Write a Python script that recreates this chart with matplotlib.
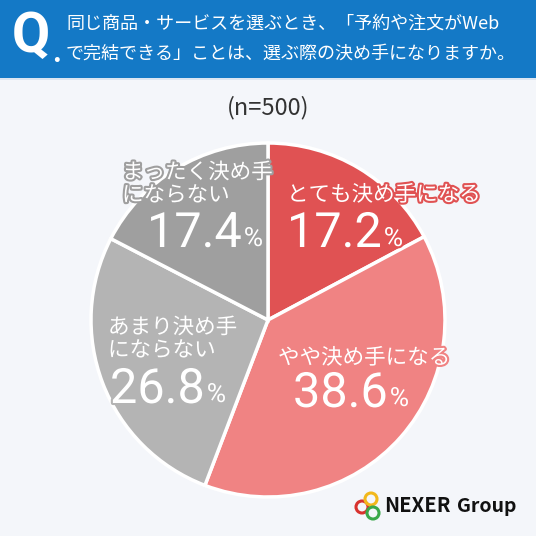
import matplotlib.pyplot as plt
import matplotlib.patheffects as pe
from matplotlib.patches import Circle, Rectangle

plt.rcParams['font.family'] = ['Noto Sans CJK JP', 'DejaVu Sans']

labels = ["とても決め手になる", "やや決め手になる", "あまり決め手\nにならない", "まったく決め手\nにならない"]
values = [17.2, 38.6, 26.8, 17.4]
colors = ["#E05253", "#F08383", "#B4B4B4", "#9F9F9F"]
title_lines = ["同じ商品・サービスを選ぶとき、「予約や注文がWeb", "で完結できる」ことは、選ぶ際の決め手になりますか。"]
n_text = "(n=500)"

W = 536
fig = plt.figure(figsize=(5.36, 5.36), dpi=100)
fig.patch.set_facecolor("#F4F6FA")


def fx(x):
    return x / W


def fy(y):
    return 1 - y / W


# header
fig.patches.append(Rectangle((0, fy(78)), 1, 78 / W, transform=fig.transFigure,
                             facecolor="#1479C6", edgecolor="none"))
fig.patches.append(Rectangle((0, fy(80)), 1, 2 / W, transform=fig.transFigure,
                             facecolor="#DCE6F2", edgecolor="none"))
fig.text(fx(31), fy(37), "Q", color="white", fontsize=40, fontweight="bold",
         family="Roboto", ha="center", va="center")
fig.text(fx(57), fy(53), ".", color="white", fontsize=22, fontweight="bold",
         family="Roboto", ha="center", va="center")
fig.text(fx(66), fy(24), title_lines[0], color="white", fontsize=13,
         ha="left", va="center")
fig.text(fx(66), fy(54), title_lines[1], color="white", fontsize=13,
         ha="left", va="center")

fig.text(fx(268), fy(108), n_text, color="#333333", fontsize=17,
         ha="center", va="center")

# pie
cx, cy, r = 268, 320, 177
ax = fig.add_axes([fx(cx - r), fy(cy + r), 2 * r / W, 2 * r / W])
ax.pie(values, colors=colors, startangle=90, counterclock=False, radius=1,
       wedgeprops=dict(edgecolor="white", linewidth=2.5))
ax.set_xlim(-1, 1)
ax.set_ylim(-1, 1)
ax.set_aspect("equal")
ax.axis("off")

# label positions (px): category text, number
pos = [
    ((287, 195), (287, 234)),
    ((278, 358), (293, 394)),
    ((108, 339), (110, 390)),
    ((122, 184), (147, 234)),
]
for i in range(len(values)):
    (lx, ly), (nx, ny) = pos[i]
    stroke = [pe.withStroke(linewidth=3, foreground=colors[i])]
    fig.text(fx(lx), fy(ly), labels[i], color="white", fontsize=15.5,
             ha="left", va="center", linespacing=1.05, path_effects=stroke)
    t = fig.text(fx(nx), fy(ny), f"{values[i]:.1f}", color="white", fontsize=35,
                 family="Roboto", ha="left", va="center", path_effects=stroke)
    fig.canvas.draw()
    bb = t.get_window_extent()
    fig.text(bb.x1 / W + fx(2), fy(ny + 5), "%", color="white", fontsize=19,
             family="Roboto", ha="left", va="center", path_effects=stroke)

# logo
lax = fig.add_axes([0, 0, 1, 1], facecolor="none")
lax.set_xlim(0, W)
lax.set_ylim(W, 0)
lax.axis("off")
for (x, y, c) in [(362, 507, "#D8322E"), (371, 499, "#F2B81B"), (373, 513, "#3AA84A")]:
    lax.add_patch(Circle((x, y), 6, fill=False, edgecolor=c, linewidth=2.2))
fig.text(fx(384), fy(506), "NEXER", color="#111111", fontsize=14.5,
         fontweight="bold", ha="left", va="center")
fig.text(fx(457), fy(506), "Group", color="#111111", fontsize=14,
         fontweight="bold", ha="left", va="center")

fig.savefig("out.png", dpi=100, facecolor=fig.get_facecolor())
